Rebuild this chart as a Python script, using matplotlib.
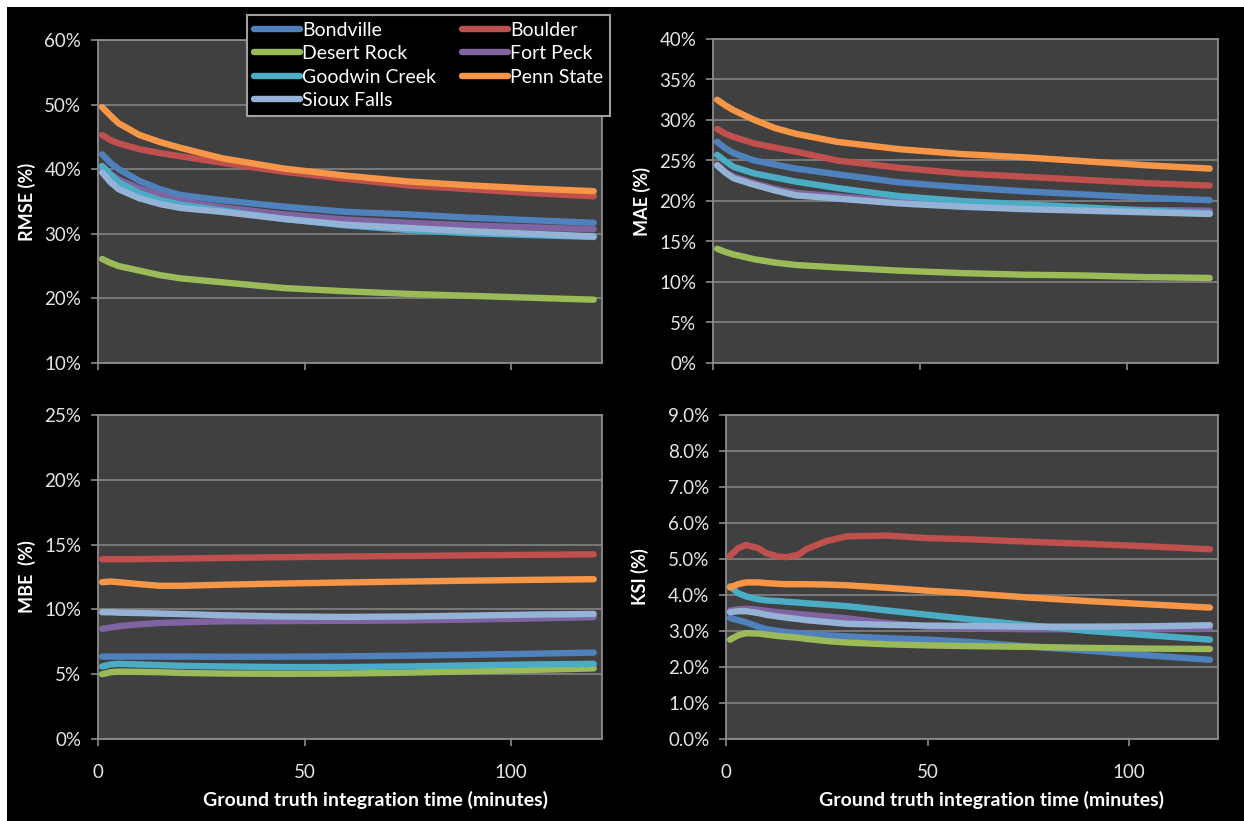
import numpy as np
import matplotlib
matplotlib.use("Agg")
import matplotlib.pyplot as plt
from matplotlib.patches import Rectangle
from matplotlib.ticker import FuncFormatter

plt.rcParams["font.family"] = ["Lato", "DejaVu Sans"]

# station names and colours (drawing order)
stations = ["Bondville", "Boulder", "Desert Rock", "Fort Peck",
            "Goodwin Creek", "Penn State", "Sioux Falls"]
colors = ["#4F81BD", "#C0504D", "#9BBB59", "#8064A2",
          "#4BACC6", "#F79646", "#95B3D7"]

# integration time (minutes)
minutes = [1, 3, 5, 10, 15, 20, 30, 45, 60, 75, 90, 105, 120]
minutes_ksi = [1, 3, 5, 8, 10, 13, 15, 18, 20, 25, 30, 40, 50, 60, 75, 90, 105, 120]

rmse_bondville = [42.3, 41.0, 40.0, 38.2, 36.9, 36.0, 35.2, 34.2, 33.4, 33.0, 32.5, 32.1, 31.7]
rmse_boulder = [45.3, 44.5, 44.0, 43.1, 42.5, 42.0, 41.0, 39.6, 38.5, 37.5, 36.9, 36.3, 35.8]
rmse_desert_rock = [26.1, 25.5, 25.0, 24.3, 23.6, 23.1, 22.5, 21.6, 21.1, 20.7, 20.4, 20.1, 19.8]
rmse_fort_peck = [40.2, 39.3, 38.4, 37.0, 36.0, 35.1, 34.1, 33.0, 32.2, 31.7, 31.3, 31.0, 30.7]
rmse_goodwin = [40.5, 39.2, 38.0, 36.3, 35.2, 34.5, 33.6, 32.3, 31.3, 30.6, 30.1, 29.8, 29.5]
rmse_penn_state = [49.6, 48.3, 47.1, 45.3, 44.2, 43.3, 41.7, 40.1, 39.0, 38.1, 37.5, 37.0, 36.6]
rmse_sioux_falls = [39.5, 38.0, 36.9, 35.5, 34.6, 34.0, 33.4, 32.3, 31.4, 30.9, 30.4, 30.0, 29.6]

mae_bondville = [27.3, 26.5, 25.9, 25.0, 24.5, 24.0, 23.3, 22.3, 21.7, 21.2, 20.8, 20.4, 20.1]
mae_boulder = [28.9, 28.3, 27.9, 27.1, 26.6, 26.1, 25.0, 24.1, 23.4, 23.0, 22.6, 22.2, 21.9]
mae_desert_rock = [14.1, 13.7, 13.4, 12.8, 12.4, 12.1, 11.8, 11.4, 11.1, 10.9, 10.8, 10.6, 10.5]
mae_fort_peck = [24.5, 23.6, 23.0, 22.2, 21.5, 21.0, 20.6, 19.9, 19.5, 19.2, 19.0, 18.9, 18.8]
mae_goodwin = [25.7, 24.9, 24.2, 23.4, 22.9, 22.4, 21.6, 20.6, 20.0, 19.6, 19.2, 18.8, 18.5]
mae_penn_state = [32.5, 31.8, 31.2, 30.0, 29.0, 28.3, 27.3, 26.4, 25.8, 25.4, 24.9, 24.4, 24.0]
mae_sioux_falls = [24.4, 23.5, 22.8, 22.0, 21.3, 20.7, 20.3, 19.7, 19.3, 19.0, 18.8, 18.6, 18.4]

mbe_bondville = [6.36, 6.36, 6.36, 6.36, 6.36, 6.36, 6.35, 6.35, 6.38, 6.43, 6.5, 6.58, 6.67]
mbe_boulder = [13.87, 13.87, 13.87, 13.88, 13.9, 13.92, 13.97, 14.03, 14.08, 14.12, 14.17, 14.21, 14.25]
mbe_desert_rock = [5.0, 5.15, 5.2, 5.18, 5.15, 5.1, 5.05, 5.03, 5.05, 5.12, 5.22, 5.33, 5.45]
mbe_fort_peck = [8.5, 8.6, 8.7, 8.85, 8.95, 9.0, 9.08, 9.1, 9.12, 9.15, 9.22, 9.3, 9.4]
mbe_goodwin = [5.6, 5.75, 5.8, 5.75, 5.7, 5.65, 5.6, 5.55, 5.55, 5.6, 5.68, 5.75, 5.8]
mbe_penn_state = [12.1, 12.15, 12.1, 11.95, 11.82, 11.82, 11.9, 12.0, 12.08, 12.15, 12.22, 12.28, 12.33]
mbe_sioux_falls = [9.78, 9.78, 9.75, 9.72, 9.68, 9.64, 9.55, 9.45, 9.42, 9.45, 9.52, 9.6, 9.65]

ksi_bondville = [3.36, 3.3, 3.24, 3.12, 3.05, 3.0, 2.97, 2.94, 2.92, 2.88, 2.85, 2.8, 2.76, 2.7, 2.57, 2.45, 2.32, 2.2]
ksi_boulder = [5.09, 5.3, 5.39, 5.3, 5.16, 5.07, 5.05, 5.12, 5.28, 5.5, 5.63, 5.65, 5.58, 5.55, 5.48, 5.42, 5.35, 5.27]
ksi_desert_rock = [2.76, 2.88, 2.94, 2.93, 2.9, 2.86, 2.84, 2.81, 2.78, 2.72, 2.68, 2.63, 2.6, 2.58, 2.56, 2.53, 2.51, 2.5]
ksi_fort_peck = [3.57, 3.6, 3.62, 3.59, 3.56, 3.52, 3.5, 3.47, 3.45, 3.4, 3.35, 3.22, 3.12, 3.07, 3.05, 3.05, 3.05, 3.06]
ksi_goodwin = [4.24, 4.05, 3.96, 3.88, 3.85, 3.83, 3.81, 3.79, 3.77, 3.73, 3.69, 3.57, 3.45, 3.33, 3.16, 3.0, 2.88, 2.76]
ksi_penn_state = [4.21, 4.3, 4.35, 4.35, 4.33, 4.31, 4.3, 4.3, 4.3, 4.29, 4.27, 4.2, 4.12, 4.05, 3.93, 3.83, 3.74, 3.65]
ksi_sioux_falls = [3.52, 3.55, 3.55, 3.5, 3.45, 3.4, 3.37, 3.33, 3.3, 3.25, 3.2, 3.17, 3.15, 3.14, 3.12, 3.12, 3.13, 3.16]

rmse = [rmse_bondville, rmse_boulder, rmse_desert_rock, rmse_fort_peck,
        rmse_goodwin, rmse_penn_state, rmse_sioux_falls]
mae = [mae_bondville, mae_boulder, mae_desert_rock, mae_fort_peck,
       mae_goodwin, mae_penn_state, mae_sioux_falls]
mbe = [mbe_bondville, mbe_boulder, mbe_desert_rock, mbe_fort_peck,
       mbe_goodwin, mbe_penn_state, mbe_sioux_falls]
ksi = [ksi_bondville, ksi_boulder, ksi_desert_rock, ksi_fort_peck,
       ksi_goodwin, ksi_penn_state, ksi_sioux_falls]

W, H = 1244, 821
fig = plt.figure(figsize=(W / 100, H / 100), dpi=100, facecolor="black")


def px_axes(x0, y0, x1, y1):
    "axes from pixel box (top-left origin)"
    return fig.add_axes([x0 / W, 1 - y1 / H, (x1 - x0) / W, (y1 - y0) / H])


panels = [
    # box, x, data, ylim, yticks, fmt, ylabel, show x labels, ylabel x, xlabel x
    ((98, 40, 602, 363), minutes, rmse, (10, 60), np.arange(10, 61, 10), "{:.0f}%", "RMSE (%)", False, -0.141, 0.55),
    ((713, 39, 1218, 363), minutes, mae, (0, 40), np.arange(0, 41, 5), "{:.0f}%", "MAE (%)", False, -0.141, 0.55),
    ((98, 415, 602, 739), minutes, mbe, (0, 25), np.arange(0, 26, 5), "{:.0f}%", "MBE  (%)", True, -0.141, 0.55),
    ((726, 415, 1218, 739), minutes_ksi, ksi, (0, 9), np.arange(0, 9.1, 1), "{:.1f}%", "KSI (%)", True, -0.175, 0.54),
]

axes = []
for box, xs, data, ylim, yticks, fmt, ylabel, showx, lx, xx in panels:
    ax = px_axes(*box)
    ax.set_facecolor("#404040")
    for vals, col, name in zip(data, colors, stations):
        ax.plot(xs, vals, color=col, lw=4.6, label=name,
                solid_capstyle="round", solid_joinstyle="round")
    ax.set_xlim(0, 122)
    ax.set_ylim(*ylim)
    ax.set_yticks(yticks)
    ax.set_xticks([0, 50, 100])
    ax.yaxis.set_major_formatter(FuncFormatter(lambda v, p, f=fmt: f.format(v)))
    ax.grid(axis="y", color="#7f7f7f", lw=1.3)
    ax.set_axisbelow(True)
    for s in ax.spines.values():
        s.set_color("#8c8c8c")
        s.set_linewidth(1.3)
    ax.tick_params(colors="#8c8c8c", labelcolor="#e6e6e6", labelsize=13.5,
                   length=5, width=1.2)
    ax.tick_params(axis="y", pad=7)
    ax.tick_params(axis="x", pad=13)
    if not showx:
        ax.set_xticklabels([])
    else:
        ax.set_xlabel("Ground truth integration time (minutes)", color="white",
                      fontsize=14, fontweight="bold")
        ax.xaxis.set_label_coords(xx, -0.16)
    ax.set_ylabel(ylabel, color="white", fontsize=13, fontweight="bold",
                  va="center")
    ax.yaxis.set_label_coords(lx, 0.5)
    axes.append(ax)

# legend, row-wise order like the original (two columns)
handles, labels = axes[0].get_legend_handles_labels()
order = [0, 2, 4, 6, 1, 3, 5]
leg = fig.legend([handles[i] for i in order], [labels[i] for i in order],
                 loc="upper left", bbox_to_anchor=(247 / W, 1 - 15 / H),
                 borderaxespad=0,
                 ncol=2, fontsize=14, frameon=True, fancybox=False,
                 facecolor="black", edgecolor="#a0a0a0", framealpha=1,
                 handlelength=2.4, handletextpad=0.1, columnspacing=1.3,
                 labelspacing=0.33, borderpad=0.35)
leg.get_frame().set_linewidth(1.5)
for t in leg.get_texts():
    t.set_color("white")

# white margins from the original screenshot
fig.add_artist(Rectangle((0, 1 - 7 / H), 1, 7 / H, transform=fig.transFigure,
                         facecolor="white", edgecolor="none"))
fig.add_artist(Rectangle((0, 0), 7 / W, 1, transform=fig.transFigure,
                         facecolor="white", edgecolor="none"))

fig.savefig("out.png", dpi=100, facecolor="black")
